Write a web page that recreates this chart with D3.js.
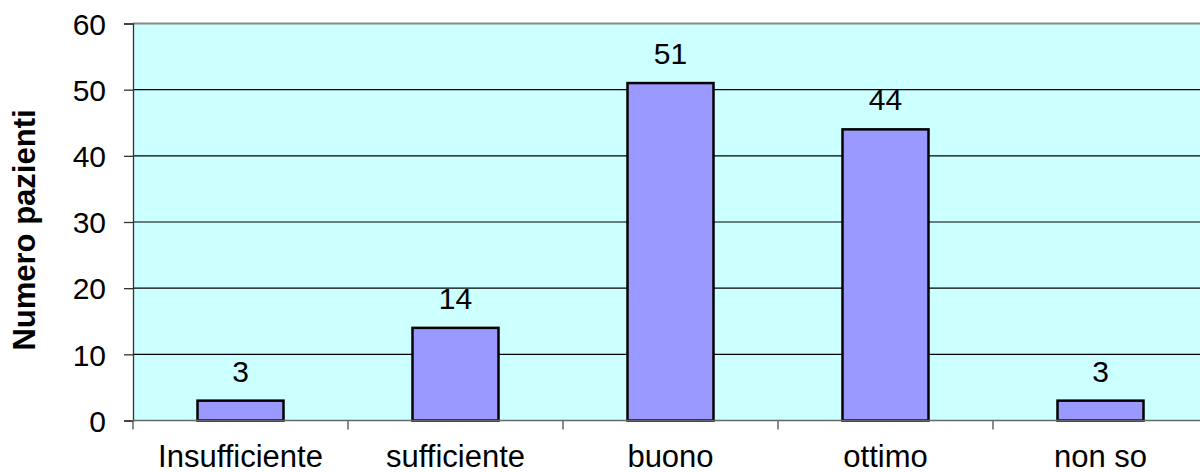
<!DOCTYPE html>
<html>
<head>
<meta charset="utf-8">
<script src="https://cdn.jsdelivr.net/npm/d3@7"></script>
<style>
  body { margin: 0; background: #fff; }
  svg { display: block; font-family: "Liberation Sans", Arial, sans-serif; }
  .tick text { fill: #000; }
</style>
</head>
<body>
<div id="chart"></div>
<script>
// Patient ratings: count per answer
const categories = ["Insufficiente", "sufficiente", "buono", "ottimo", "non so"];
const counts = [3, 14, 51, 44, 3];
const yTicks = [0, 10, 20, 30, 40, 50, 60];

const width = 1200, height = 472;
const m = { top: 23.5, left: 133, bottom: 51.5 };
const bandW = 215;
const iW = bandW * categories.length, iH = height - m.top - m.bottom;

const svg = d3.select("#chart").append("svg")
  .attr("width", width).attr("height", height);
const g = svg.append("g").attr("transform", `translate(${m.left},${m.top})`);

const x = d3.scaleBand(categories, [0, iW]).paddingInner(0.6).paddingOuter(0.3);
const y = d3.scaleLinear([0, 60], [iH, 0]);

g.append("rect").attr("width", iW).attr("height", iH).attr("fill", "#ccffff");

// gridlines
g.selectAll(".grid").data(yTicks.filter((d) => d > 0 && d < 60)).join("line")
  .attr("x1", 0).attr("x2", iW)
  .attr("y1", (d) => y(d)).attr("y2", (d) => y(d))
  .attr("stroke", "#000").attr("stroke-width", 1.2);
// top border
g.append("line").attr("x1", 0).attr("x2", iW).attr("y1", 0).attr("y2", 0)
  .attr("stroke", "#888").attr("stroke-width", 2);

g.selectAll(".bar").data(counts).join("rect")
  .attr("x", (d, i) => x(categories[i]))
  .attr("y", (d) => y(d))
  .attr("width", x.bandwidth())
  .attr("height", (d) => iH - y(d))
  .attr("fill", "#9999ff").attr("stroke", "#000").attr("stroke-width", 2.5);

g.selectAll(".val").data(counts).join("text")
  .attr("x", (d, i) => x(categories[i]) + x.bandwidth() / 2)
  .attr("y", (d) => y(d) - 19)
  .attr("text-anchor", "middle").attr("font-size", 30)
  .text((d) => d);

// axes
const yAxis = g.append("g").call(d3.axisLeft(y).tickValues(yTicks).tickSize(9).tickPadding(18));
yAxis.selectAll("text").attr("font-size", 30).attr("dy", "0.36em");
yAxis.selectAll("line, path").attr("stroke", "#333").attr("stroke-width", 1.3);

const xTickScale = d3.scaleLinear([0, categories.length], [0, iW]);
const xAxis = g.append("g").attr("transform", `translate(0,${iH})`);
xAxis.append("line").attr("x1", 0).attr("x2", iW).attr("stroke", "#666").attr("stroke-width", 1.5);
xAxis.selectAll(".xt").data(d3.range(categories.length + 1)).join("line")
  .attr("x1", (d) => xTickScale(d)).attr("x2", (d) => xTickScale(d))
  .attr("y1", 0).attr("y2", 9).attr("stroke", "#666").attr("stroke-width", 1.5);
xAxis.selectAll(".xl").data(categories).join("text")
  .attr("x", (d) => x(d) + x.bandwidth() / 2)
  .attr("y", 46)
  .attr("text-anchor", "middle").attr("font-size", 31)
  .text((d) => d);

svg.append("text")
  .attr("transform", `translate(35,230) rotate(-90)`)
  .attr("text-anchor", "middle").attr("font-size", 31).attr("font-weight", "bold")
  .text("Numero pazienti");
</script>
</body>
</html>
